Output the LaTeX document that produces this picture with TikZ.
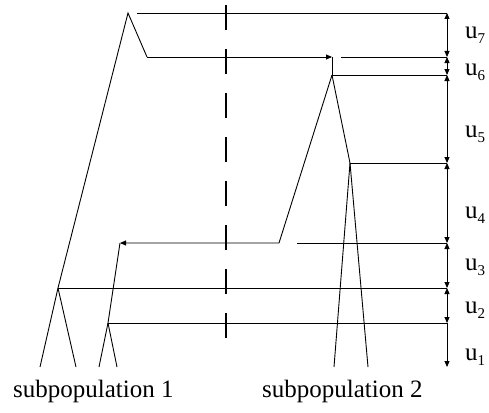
\documentclass[tikz,border=0pt]{standalone}
\usepackage{fontspec}
\setmainfont{Liberation Serif}
\usetikzlibrary{arrows.meta}
\newcommand\ulab[1]{u\raisebox{-0.22em}{\fontsize{15}{18}\selectfont #1}}
\begin{document}
\begin{tikzpicture}[x=1pt,y=-1pt,
  line/.style={line width=0.9pt},
  tip/.style={-{Triangle[length=6pt,width=5pt]}},
  dim/.style={line width=0.9pt,{Triangle[length=6pt,width=5pt]}-{Triangle[length=6pt,width=5pt]}},
  dimdown/.style={line width=0.9pt,-{Triangle[length=6pt,width=5pt]}},
  barrier/.style={line width=2pt,dash pattern=on 25pt off 19pt},
  lab/.style={anchor=base west,inner sep=0pt,font=\fontsize{25}{30}\selectfont},
  ]
\path[use as bounding box] (0,0) rectangle (489,412);
% genealogy points
\coordinate (A) at (128,13);
\coordinate (A1) at (147,57);
\coordinate (M) at (332,57);
\coordinate (B) at (332,75);
\coordinate (C) at (350,163);
\coordinate (D) at (279,243);
\coordinate (E) at (120,243);
\coordinate (F) at (58,288);
\coordinate (G) at (108,323);
\coordinate (L1) at (40,367);
\coordinate (L2) at (76,367);
\coordinate (L3) at (99,367);
\coordinate (L4) at (117,367);
\coordinate (L5) at (334,367);
\coordinate (L6) at (368,367);
% scale points
\coordinate (R7) at (447,13);
\coordinate (R6) at (447,57);
\coordinate (R5) at (447,75);
\coordinate (R4) at (447,163);
\coordinate (R3) at (447,243);
\coordinate (R2) at (447,288);
\coordinate (R1) at (447,323);
\coordinate (R0) at (447,367);
% horizontal line starts
\coordinate (H7) at (137,13);
\coordinate (H6) at (341,57);
\coordinate (H3) at (297,243);
% barrier
\coordinate (T1) at (226,5);
\coordinate (T2) at (226,340);

% horizontal level lines
\draw[line] (H7) -- (R7);
\draw[line] (H6) -- (R6);
\draw[line] (B) -- (R5);
\draw[line] (C) -- (R4);
\draw[line] (H3) -- (R3);
\draw[line] (F) -- (R2);
\draw[line] (G) -- (R1);

% barrier
\draw[barrier] (T1) -- (T2);

% genealogy
\draw[line] (L1) -- (F) -- (A) -- (A1);
\draw[line,tip] (A1) -- (M);
\draw[line] (M) -- (B);
\draw[line] (L2) -- (F);
\draw[line] (L3) -- (G) -- (E);
\draw[line] (L4) -- (G);
\draw[line,tip] (B) -- (D) -- (E);
\draw[line] (B) -- (C);
\draw[line] (C) -- (L5);
\draw[line] (C) -- (L6);

% scale arrows
\draw[dim] (R7) -- (R6);
\draw[dim] (R6) -- (R5);
\draw[dim] (R5) -- (R4);
\draw[dim] (R4) -- (R3);
\draw[dim] (R3) -- (R2);
\draw[dim] (R2) -- (R1);
\draw[dimdown] (R1) -- (R0);

% labels
\node[lab] (u7) at (465,38) {\ulab{7}};
\node[lab] (u6) at (465,75) {\ulab{6}};
\node[lab] (u5) at (465,137) {\ulab{5}};
\node[lab] (u4) at (465,218) {\ulab{4}};
\node[lab] (u3) at (465,270) {\ulab{3}};
\node[lab] (u2) at (465,313) {\ulab{2}};
\node[lab] (u1) at (465,360) {\ulab{1}};
\node[lab] (s1) at (13,397) {subpopulation 1};
\node[lab] (s2) at (262,397) {subpopulation 2};
\end{tikzpicture}
\end{document}
